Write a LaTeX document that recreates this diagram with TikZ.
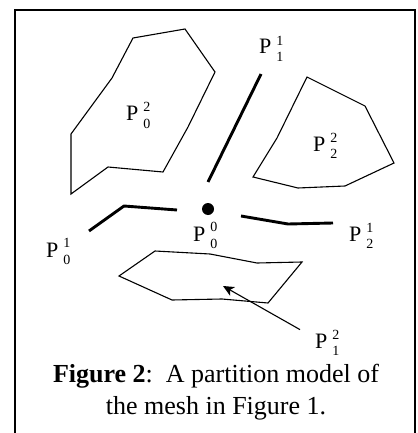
\documentclass[tikz,border=0pt]{standalone}
\usepackage{fontspec}
\setmainfont{Liberation Serif}
\usetikzlibrary{arrows.meta}

\newcommand{\scr}{\fontsize{14}{14}\selectfont}
\newcommand{\plab}[2]{P\kern5pt$\vcenter{\offinterlineskip\hbox{\scr #1}\kern7.5pt\hbox{\scr #2}}$}

\tikzset{
  region/.style={draw, line width=1.1pt, line join=miter},
  bound/.style={line width=2.9pt},
  vertex/.style={circle, fill, inner sep=0pt, minimum size=12pt},
  plabel/.style={inner sep=0pt, anchor=base west, font=\fontsize{22}{22}\selectfont},
  caption/.style={inner sep=0pt, anchor=base, font=\fontsize{26}{26}\selectfont},
  pointer/.style={line width=1.1pt, -{Stealth[length=11pt,width=10pt,inset=3pt]}},
}

\begin{document}
\begin{tikzpicture}[x=1pt,y=-1pt]
        \useasboundingbox (0,0) rectangle (417,433);
        \fill[white] (0,0) rectangle (417,433);

        % frame, open at the bottom
        \draw[line width=2pt] (15,433) -- (15,10) -- (414.5,10) -- (414.5,433);

        % two-dimensional parts
        \draw[region] (133,38) -- (185,29) -- (215,72) -- (188,127) -- (163,172)
            -- (108,167) -- (71,194) -- (71,134) -- (112,78) -- cycle;
        \draw[region] (307,77) -- (365,106) -- (394,163) -- (345,186) -- (298,188)
            -- (253,177) -- (277,138) -- cycle;
        \draw[region] (119,276) -- (155,251) -- (210,254) -- (257,263) -- (302,262)
            -- (268,303) -- (222,299) -- (172,300) -- cycle;

        % one-dimensional parts
        \draw[bound] (261,74) -- (208,182);
        \draw[bound] (89,231) -- (124,206) -- (177,210);
        \draw[bound] (241,216) -- (288,224) -- (333,223);

        % zero-dimensional part
        \node[vertex] (v00) at (208,209) {};

        \node[plabel] (p02) at (126,121) {\plab{2}{0}};
        \node[plabel] (p11) at (259,54) {\plab{1}{1}};
        \node[plabel] (p22) at (313,151) {\plab{2}{2}};
        \node[plabel] (p00) at (193,241) {\plab{0}{0}};
        \node[plabel] (p01) at (46,257) {\plab{1}{0}};
        \node[plabel] (p21) at (349,241) {\plab{1}{2}};
        \node[plabel] (p12) at (315,348) {\plab{2}{1}};

        \coordinate (tip) at (223,286);
        \draw[pointer] ([xshift=-15pt]p12.north west) -- (tip);

        \node[caption] (cap1) at (216,382) {\textbf{Figure 2}:\ \ A partition model of};
        \node[caption] (cap2) at (216,414) {the mesh in Figure 1.};
    \end{tikzpicture}
\end{document}
